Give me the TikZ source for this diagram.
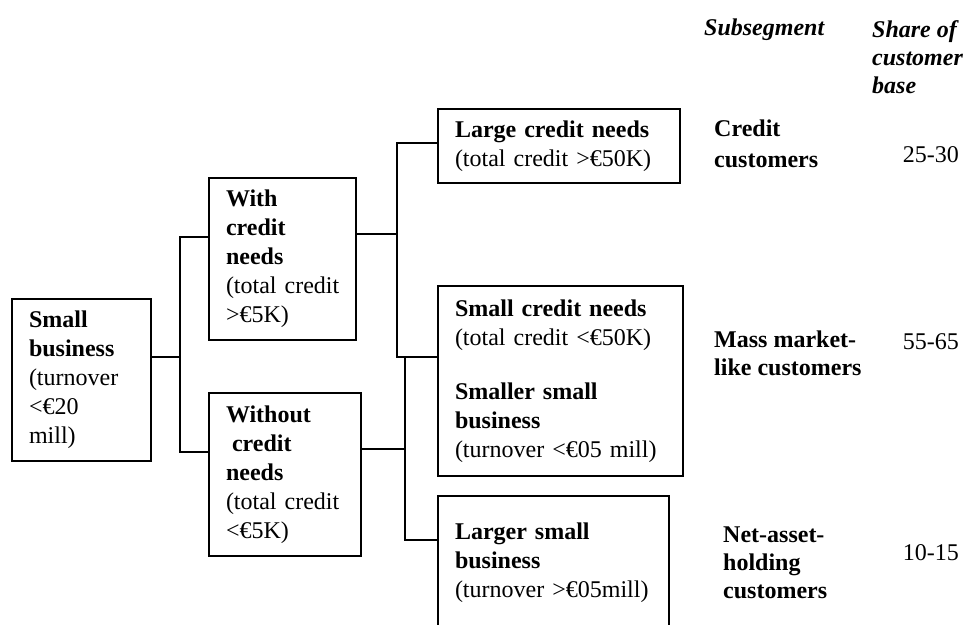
\documentclass[tikz,border=0pt]{standalone}
\usepackage{fontspec}
\setmainfont{Liberation Serif}
\begin{document}
\begin{tikzpicture}[x=1pt,y=-1pt,
  every node/.style={font=\fontsize{24}{29}\selectfont},
  box/.style={draw, line width=1.3pt, inner sep=0pt, align=left, text width=#1},
  conn/.style={line width=1.5pt},
  hdr/.style={font=\fontsize{24}{28}\selectfont\bfseries\itshape, align=left, inner sep=0pt},
  seg/.style={font=\fontsize{24}{28}\selectfont\bfseries, align=left, inner sep=0pt},
  share/.style={inner sep=0pt, anchor=east}]
\useasboundingbox (0,0) rectangle (964,624);
\clip (0,0) rectangle (964,624);
% boxes
\node[box=105pt, minimum width=139pt, minimum height=162pt] (sb) at (81.5,380)
  {\textbf{Small}\\\textbf{business}\\(turnover\\<€20\\mill)};
\node[box=113pt, minimum width=147pt, minimum height=162pt] (wc) at (282.5,259)
  {\textbf{With}\\\textbf{credit}\\\textbf{needs}\\(total~credit\\>€5K)};
\node[box=118pt, minimum width=152pt, minimum height=163pt] (woc) at (285,474.5)
  {\textbf{Without}\\\textbf{\hspace{0.25em}credit}\\\textbf{needs}\\(total~credit\\<€5K)};
\node[box=208pt, minimum width=242pt, minimum height=74pt] (lc) at (559,146)
  {\textbf{Large~credit~needs}\\(total~credit~>€50K)};
\node[box=211pt, minimum width=245pt, minimum height=190pt] (sc) at (560.5,381)
  {\textbf{Small~credit~needs}\\(total~credit~<€50K)\\[25pt]\textbf{Smaller~small}\\\textbf{business}\\(turnover~<€05~mill)};
\node[box=197pt, minimum width=231pt, minimum height=134pt] (ls) at (553.5,563)
  {\textbf{Larger~small}\\\textbf{business}\\(turnover~>€05mill)};
% connectors
\coordinate (a1) at (180,237);
\coordinate (a2) at (180,452);
\draw[conn] ([yshift=22]wc.west) -- (a1) -- (a2) -- ([yshift=22.5]woc.west);
\draw[conn] ([yshift=23]sb.east) -- ([yshift=23]sb.east -| a1);
\coordinate (b1) at (397,143);
\coordinate (b2) at (397,357);
\draw[conn] ([yshift=3]lc.west) -- (b1) -- (b2) -- ([yshift=24]sc.west);
\draw[conn] ([yshift=25]wc.east) -- ([yshift=25]wc.east -| b1);
\coordinate (c1) at (405,357);
\coordinate (c2) at (405,540);
\draw[conn] ([yshift=25.5]woc.east) -- ([yshift=25.5]woc.east -| c1);
\draw[conn] (c1) -- (c2) -- ([yshift=23]ls.west);
% right column
\node[hdr, anchor=west] (hsub) at (704,30) {Subsegment};
\node[hdr, anchor=west] (hshare) at (872,57) {Share of\\customer\\base};
\node[seg, font=\fontsize{24}{31}\selectfont\bfseries, anchor=west] (s1) at (714,143.5) {Credit\\customers};
\node[seg, anchor=west] (s2) at (714,353) {Mass market-\\like customers};
\node[seg, anchor=west] (s3) at (723,563) {Net-asset-\\holding\\customers};
\node[share] (p1) at (959,155) {25-30};
\node[share] (p2) at (959,342) {55-65};
\node[share] (p3) at (959,553) {10-15};
\end{tikzpicture}
\end{document}
